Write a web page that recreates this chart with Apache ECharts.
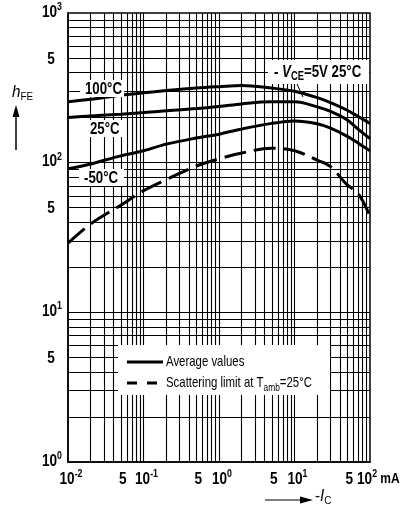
<!DOCTYPE html>
<html><head><meta charset="utf-8">
<script src="https://cdn.jsdelivr.net/npm/echarts@6/dist/echarts.min.js"></script>
<style>html,body{margin:0;padding:0;background:#fff}#c{width:417px;height:511px}</style>
</head><body><div id="c"></div>
<script>
// ---- data (collector current -I_C in mA, current gain h_FE) ----
const currentMA   = [0.01, 0.02, 0.05, 0.1, 0.2, 0.5, 1, 2, 5, 10, 20, 30, 50, 70, 100];
const hfe100C     = [255, 265, 282, 293, 303, 315, 322, 328, 315, 300, 272, 252, 224, 203, 183];
const hfe25C      = [200, 205, 211, 216, 222, 230, 237, 247, 255, 255, 236, 220, 193, 167, 145];
const hfeMinus50C = [91, 98, 111, 120, 133, 146, 155, 168, 183, 190, 182, 170, 150, 135, 120];
const scatterLim  = [29, 39, 52, 65, 77, 95, 106, 116, 125, 120, 104, 94, 71, 62, 44];
// ---- axes / tick labels ----
const xMin = 0.01, xMax = 100, yMin = 1, yMax = 1000;
const xDecades = [-2, -1, 0, 1, 2];
const yDecades = [0, 1, 2, 3];
const xFiveLabels = [0.05, 0.5, 5, 50];
const yFiveLabels = [5, 50, 500];
const fiveText = '5';
const gridMultipliers = [1, 2, 3, 4, 5, 6, 7, 8, 9];
const xUnit = 'mA';
const legendNames = ['Average values', 'Scattering limit at Tamb=25°C'];
const curveLabels = ['100°C', '25°C', '-50°C'];

const FONT = "'Liberation Sans',Arial,sans-serif";
const chart = echarts.init(document.getElementById('c'), null, {renderer: 'canvas'});

const pairs = arr => currentMA.map((x, i) => [x, arr[i]]);
const vGrid = [], hGrid = [];
for (let k = xDecades[0]; k < xDecades[xDecades.length - 1]; k++)
  for (const m of gridMultipliers) { const v = +(m * Math.pow(10, k)).toPrecision(3); if (v > xMin && v < xMax) vGrid.push({xAxis: v}); }
for (let k = yDecades[0]; k < yDecades[yDecades.length - 1]; k++)
  for (const m of gridMultipliers) { const v = +(m * Math.pow(10, k)).toPrecision(3); if (v > yMin && v < yMax) hGrid.push({yAxis: v}); }

const curve = (name, arr, dashed) => ({
  type: 'line', name, data: pairs(arr), smooth: 0.35, symbol: 'none', showSymbol: false, z: 20,
  lineStyle: {color: '#000', width: 3, type: dashed ? [22, 8] : 'solid'}, itemStyle: {color: '#000'}, silent: true
});

chart.setOption({
  animation: false,
  backgroundColor: '#fff',
  grid: {left: 68, right: 47, top: 13, bottom: 49, show: true, borderColor: '#000', borderWidth: 1.5, backgroundColor: 'transparent'},
  xAxis: {
    type: 'log', logBase: 10, min: xMin, max: xMax,
    axisLine: {show: true, lineStyle: {color: '#000', width: 1.5}},
    axisTick: {show: false}, splitLine: {show: false}, axisLabel: {show: false}
  },
  yAxis: {
    type: 'log', logBase: 10, min: yMin, max: yMax,
    axisLine: {show: true, lineStyle: {color: '#000', width: 1.5}},
    axisTick: {show: false}, splitLine: {show: false}, axisLabel: {show: false}
  },
  series: [
    {type: 'line', name: 'grid', data: [], z: 2, silent: true,
     markLine: {silent: true, symbol: ['none', 'none'], label: {show: false}, animation: false,
       lineStyle: {color: '#000', width: 1.1, type: 'solid'}, emphasis: {disabled: true},
       data: vGrid.concat(hGrid)}},
    curve(legendNames[0], hfe100C, false),
    curve(legendNames[0], hfe25C, false),
    curve(legendNames[0], hfeMinus50C, false),
    curve(legendNames[1], scatterLim, true)
  ]
});

const g = [];
const SX = 0.8; // condensed look
const rich = (x, y, text, style, scale) => g.push({type: 'text', z: 30, x, y, scaleX: scale || SX,
  style: Object.assign({text, fontFamily: FONT, fontSize: 16, fontWeight: 'bold', fill: '#000', verticalAlign: 'middle',
    rich: {
      b: {fontFamily: FONT, fontSize: 17, fontWeight: 'bold', fill: '#000', lineHeight: 18},
      s: {fontFamily: FONT, fontSize: 11, fontWeight: 'bold', fill: '#000', lineHeight: 11, padding: [0, 0, 10, 0]},
      u: {fontFamily: FONT, fontSize: 15, fontWeight: 'bold', fill: '#000', lineHeight: 18},
      i: {fontFamily: FONT, fontSize: 17, fontStyle: 'italic', fill: '#000', lineHeight: 18},
      ib: {fontFamily: FONT, fontSize: 17, fontStyle: 'italic', fontWeight: 'bold', fill: '#000', lineHeight: 18},
      sub: {fontFamily: FONT, fontSize: 11, fill: '#000', lineHeight: 11, padding: [9, 0, 0, 0]},
      subb: {fontFamily: FONT, fontSize: 12, fontWeight: 'bold', fill: '#000', lineHeight: 12, padding: [9, 0, 0, 0]}
    }}, style || {})});

// x tick labels
for (const k of xDecades) {
  const p = chart.convertToPixel({xAxisIndex: 0}, Math.pow(10, k));
  if (k === xDecades[xDecades.length - 1]) rich(p - 13, 479, '{b|10}{s|' + k + '}{u| ' + xUnit + '}', {align: 'left'});
  else rich(p + 3, 479, '{b|10}{s|' + k + '}', {align: 'center'});
}
for (const v of xFiveLabels) { const p = chart.convertToPixel({xAxisIndex: 0}, v); rich(p + 2, 479, fiveText, {align: 'center', fontSize: 17}); }
// y tick labels
for (const k of yDecades) { const p = chart.convertToPixel({yAxisIndex: 0}, Math.pow(10, k)); rich(62, p - 1, '{b|10}{s|' + k + '}', {align: 'right'}); }
for (const v of yFiveLabels) { const p = chart.convertToPixel({yAxisIndex: 0}, v); rich(51, p + 1, fiveText, {align: 'center', fontSize: 17}); }

// legend (white box, line samples, texts)
g.push({type: 'rect', z: 25, shape: {x: 118, y: 345, width: 212, height: 50}, style: {fill: '#fff'}});
g.push({type: 'line', z: 30, shape: {x1: 127, y1: 362, x2: 163, y2: 362}, style: {stroke: '#000', lineWidth: 3}});
g.push({type: 'line', z: 30, shape: {x1: 127, y1: 383, x2: 163, y2: 383}, style: {stroke: '#000', lineWidth: 3, lineDash: [10, 10]}});
rich(166, 362, legendNames[0], {align: 'left', fontWeight: 'normal', fontSize: 15}, 0.76);
rich(166, 383, 'Scattering limit at T{sub|amb}=25°C', {align: 'left', fontWeight: 'normal', fontSize: 15}, 0.76);

// curve labels with white boxes
const box = (x, y, w, h) => g.push({type: 'rect', z: 25, shape: {x, y, width: w, height: h}, style: {fill: '#fff'}});
box(80, 80, 44, 17); rich(85, 89, curveLabels[0], {align: 'left', fontSize: 17}, 0.78);
box(86, 120, 38, 17); rich(90, 129, curveLabels[1], {align: 'left', fontSize: 17}, 0.78);
box(79, 169, 45, 17); rich(84, 178, curveLabels[2], {align: 'left', fontSize: 17}, 0.78);
box(268, 60, 101, 24);
rich(274, 72, '- {ib|V}{subb|CE}=5V 25°C', {align: 'left', fontSize: 17}, 0.78);
g.push({type: 'line', z: 30, shape: {x1: 297, y1: 84, x2: 303, y2: 97}, style: {stroke: '#000', lineWidth: 1}});

// y axis title with arrow
rich(12, 92, '{i|h}{sub|FE}', {align: 'left'}, 0.9);
g.push({type: 'line', z: 30, shape: {x1: 16, y1: 150, x2: 16, y2: 112}, style: {stroke: '#000', lineWidth: 1.5}});
g.push({type: 'polygon', z: 30, shape: {points: [[16, 105], [12.5, 117], [19.5, 117]]}, style: {fill: '#000'}});

// x axis title with arrow
g.push({type: 'line', z: 30, shape: {x1: 265, y1: 500, x2: 302, y2: 500}, style: {stroke: '#000', lineWidth: 1.2}});
g.push({type: 'polygon', z: 30, shape: {points: [[313, 500], [300, 496.5], [300, 503.5]]}, style: {fill: '#000'}});
rich(315, 496, '-{i|I}{sub|C}', {align: 'left', fontWeight: 'normal', fontSize: 17}, 0.9);

chart.setOption({graphic: g});
</script></body></html>
